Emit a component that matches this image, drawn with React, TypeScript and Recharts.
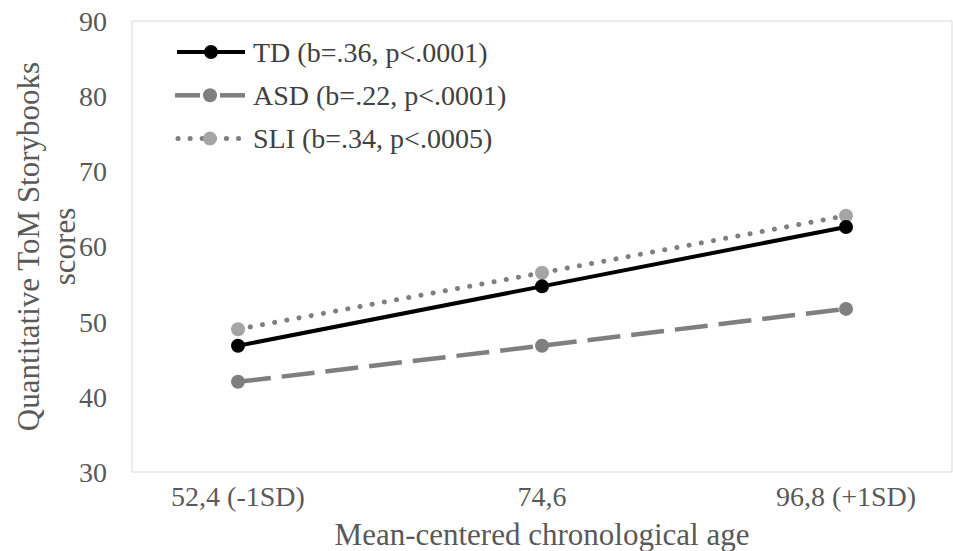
import React from 'react';
import { LineChart, Line, XAxis, YAxis, CartesianGrid, Legend } from 'recharts';

const ages = ['52,4 (-1SD)', '74,6', '96,8 (+1SD)'];
const tdScores = [46.8, 54.7, 62.6];
const asdScores = [42.0, 46.8, 51.7];
const sliScores = [49.0, 56.5, 64.1];
const yTicks = [30, 40, 50, 60, 70, 80, 90];
const legendLabels = ['TD (b=.36, p<.0001)', 'ASD (b=.22, p<.0001)', 'SLI (b=.34, p<.0005)'];

const data = ages.map((age, i) => ({
  age,
  TD: tdScores[i],
  ASD: asdScores[i],
  SLI: sliScores[i],
}));

const FONT = 'Liberation Serif, DejaVu Serif, serif';
const AXIS_TEXT = '#595959';
const GRAY = '#7f7f7f';
const LIGHT_GRAY = '#a5a5a5';

// Y axis title, wrapped on two lines like the original
const YTitle = (props: any) => {
  const vb = props.viewBox || { x: 0, y: 0, height: 0 };
  const cy = vb.y + vb.height / 2;
  const x1 = vb.x + 38.5;
  const x2 = vb.x + 74.5;
  return (
    <g fill={AXIS_TEXT} fontSize={31} style={{ fontFamily: FONT }}>
      <text x={x1} y={cy} textAnchor="middle" transform={`rotate(-90, ${x1}, ${cy})`}>
        Quantitative ToM Storybooks
      </text>
      <text x={x2} y={cy} textAnchor="middle" transform={`rotate(-90, ${x2}, ${cy})`}>
        scores
      </text>
    </g>
  );
};

const XTitle = (props: any) => {
  const vb = props.viewBox || { x: 0, y: 0, width: 0 };
  return (
    <text
      x={vb.x + vb.width / 2}
      y={vb.y + 73}
      textAnchor="middle"
      fill={AXIS_TEXT}
      fontSize={31}
      style={{ fontFamily: FONT }}
    >
      Mean-centered chronological age
    </text>
  );
};

const LegendBox = () => {
  const rowY = (i: number) => 52 + i * 43.3;
  return (
    <svg width={620} height={170} style={{ display: 'block', fontFamily: FONT }}>
      {/* TD */}
      <line x1={177} x2={245} y1={rowY(0)} y2={rowY(0)} stroke="#000" strokeWidth={4} />
      <circle cx={211} cy={rowY(0)} r={7} fill="#000" />
      {/* ASD */}
      <line x1={175} x2={200} y1={rowY(1)} y2={rowY(1)} stroke={GRAY} strokeWidth={4.5} />
      <line x1={220} x2={245} y1={rowY(1)} y2={rowY(1)} stroke={GRAY} strokeWidth={4.5} />
      <circle cx={210} cy={rowY(1)} r={7} fill={GRAY} />
      {/* SLI */}
      <line
        x1={178}
        x2={242}
        y1={rowY(2)}
        y2={rowY(2)}
        stroke={GRAY}
        strokeWidth={5}
        strokeDasharray="0.1 12"
        strokeLinecap="round"
      />
      <circle cx={210} cy={rowY(2)} r={7} fill={LIGHT_GRAY} />
      {legendLabels.map((label, i) => (
        <text key={label} x={253} y={rowY(i)} dy="0.35em" fill="#404040" fontSize={28}>
          {label}
        </text>
      ))}
    </svg>
  );
};

export default function App() {
  return (
    <div style={{ position: 'absolute', left: 0, top: 0, background: '#fff', fontFamily: FONT }}>
      <LineChart
        width={953}
        height={551}
        data={data}
        margin={{ top: 21, right: 1, bottom: 0, left: 0 }}
        style={{ fontFamily: FONT }}
      >
        <CartesianGrid
          stroke="#d9d9d9"
          strokeWidth={1}
          horizontalCoordinatesGenerator={({ offset }: any) => [offset.top, offset.top + offset.height]}
          verticalCoordinatesGenerator={({ offset }: any) => [offset.left, offset.left + offset.width]}
        />
        <XAxis
          dataKey="age"
          height={79}
          padding={{ left: 106, right: 106 }}
          axisLine={false}
          tickLine={false}
          tickMargin={8}
          tick={{ fill: AXIS_TEXT, fontSize: 28, style: { fontFamily: FONT } }}
          label={<XTitle />}
        />
        <YAxis
          width={132}
          domain={[30, 90]}
          ticks={yTicks}
          axisLine={false}
          tickLine={false}
          tickMargin={19}
          tick={{ fill: AXIS_TEXT, fontSize: 28, style: { fontFamily: FONT } }}
          label={<YTitle />}
        />
        <Legend
          layout="vertical"
          align="center"
          verticalAlign="middle"
          wrapperStyle={{ left: 0, top: 0, width: 620 }}
          content={<LegendBox />}
        />
        <Line
          dataKey="SLI"
          stroke={GRAY}
          strokeWidth={5}
          strokeDasharray="0.1 12.3"
          strokeLinecap="round"
          dot={{ r: 7, fill: LIGHT_GRAY, stroke: 'none' }}
          activeDot={false}
          isAnimationActive={false}
        />
        <Line
          dataKey="ASD"
          stroke={GRAY}
          strokeWidth={4.5}
          strokeDasharray="33 11"
          dot={{ r: 7, fill: GRAY, stroke: 'none' }}
          activeDot={false}
          isAnimationActive={false}
        />
        <Line
          dataKey="TD"
          stroke="#000"
          strokeWidth={4}
          dot={{ r: 7, fill: '#000', stroke: 'none' }}
          activeDot={false}
          isAnimationActive={false}
        />
      </LineChart>
    </div>
  );
}
